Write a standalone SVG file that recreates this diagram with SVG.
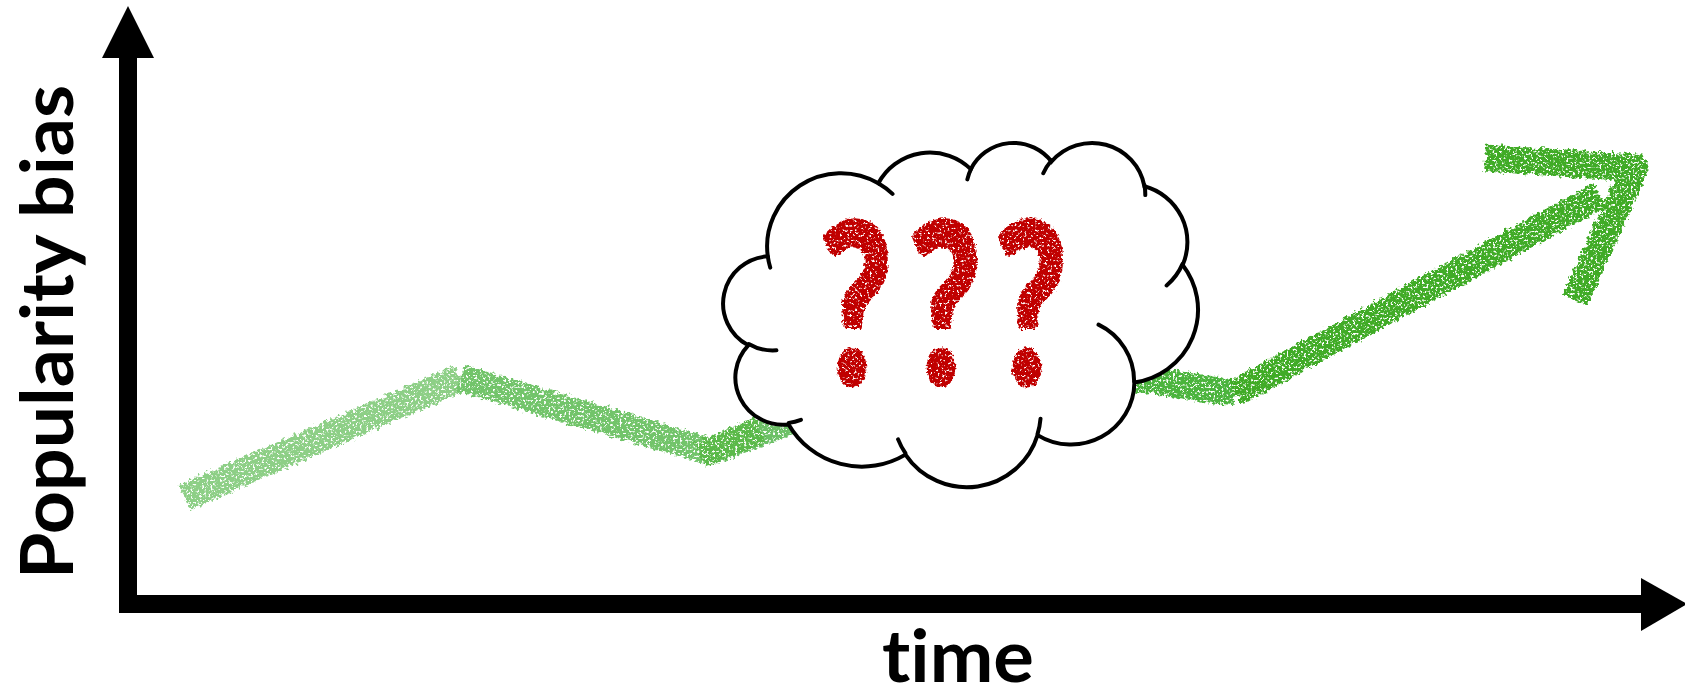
<svg xmlns="http://www.w3.org/2000/svg" width="1685" height="697" viewBox="0 0 1685 697">
  <style>
    .axis { fill: #000; }
    .label { font-family: Lato, "Open Sans", sans-serif; font-weight: 700; fill: #000; font-variant-ligatures: none; }
    .trend { fill: none; stroke-width: 27; stroke-linejoin: round; stroke-linecap: butt; }
    .cloud-line { stroke: #000; stroke-width: 4; vector-effect: non-scaling-stroke; stroke-linecap: round; }
    .qmark { font-family: Lato, "Liberation Sans", sans-serif; font-weight: 900; font-size: 222px; fill: #c00000; stroke: #c00000; stroke-width: 5; stroke-linejoin: round; }
  </style>
  <defs>
    <!-- crayon texture: ragged edges plus small gaps in the pigment -->
    <filter id="chalk" filterUnits="userSpaceOnUse" x="0" y="0" width="1685" height="697">
      <feTurbulence type="fractalNoise" baseFrequency="0.25" numOctaves="2" seed="4" result="warp"/>
      <feDisplacementMap in="SourceGraphic" in2="warp" scale="9" xChannelSelector="R" yChannelSelector="G" result="rough"/>
      <feTurbulence type="fractalNoise" baseFrequency="0.45" numOctaves="2" seed="11" result="grain"/>
      <feColorMatrix in="grain" type="matrix" values="0 0 0 0 0  0 0 0 0 0  0 0 0 0 0  -7 0 0 0 4.9" result="holes"/>
      <feComposite in="rough" in2="holes" operator="in"/>
    </filter>
    <filter id="grunge" filterUnits="userSpaceOnUse" x="700" y="150" width="500" height="300">
      <feTurbulence type="fractalNoise" baseFrequency="0.3" numOctaves="2" seed="21" result="warp"/>
      <feDisplacementMap in="SourceGraphic" in2="warp" scale="6" xChannelSelector="R" yChannelSelector="G" result="rough"/>
      <feTurbulence type="fractalNoise" baseFrequency="0.4" numOctaves="2" seed="5" result="grain"/>
      <feColorMatrix in="grain" type="matrix" values="0 0 0 0 0  0 0 0 0 0  0 0 0 0 0  -7 0 0 0 5.1" result="holes"/>
      <feComposite in="rough" in2="holes" operator="in"/>
    </filter>
  </defs>

  <rect width="1685" height="697" fill="#fff"/>

  <!-- axes -->
  <g id="axes">
    <rect class="axis" x="119" y="56" width="18" height="557"/>
    <polygon class="axis" points="128,6 154,58 102,58"/>
    <rect class="axis" x="119" y="595" width="1524" height="18"/>
    <polygon class="axis" points="1641,578 1687,604 1641,631"/>
  </g>

  <!-- axis labels -->
  <g id="labels">
    <text id="y-label" class="label" font-size="72" text-anchor="middle" transform="translate(73,332) rotate(-90)" textLength="494" lengthAdjust="spacingAndGlyphs">Popularity bias</text>
    <text id="x-label" class="label" font-size="72" text-anchor="middle" x="958" y="682" textLength="152" lengthAdjust="spacingAndGlyphs">time</text>
  </g>

  <!-- trend line drawn in crayon -->
  <g id="trend" filter="url(#chalk)">
    <polyline class="trend" stroke="#6cc066" points="712,452 830,405"/>
    <polyline class="trend" stroke="#4cb43e" points="1080,370 1235,393"/>
    <polyline class="trend" stroke="#8dcf86" points="185,497 460,378"/>
    <polyline class="trend" stroke="#72c46a" points="460,378 712,452"/>
    <polyline class="trend" stroke="#5ab94a" points="700,455 760,430"/>
    <polyline class="trend" stroke="#3fab25" points="1235,393 1600,195"/>
    <polyline class="trend" stroke="#3fab25" points="1485,158 1635,168 1575,300"/>
  </g>

  <!-- thought cloud -->
  <g id="cloud" transform="translate(725.1,141.8) scale(0.010942,0.007967)">
    <path class="cloud-line" fill="#fff" d="M3900 14370 A6753 9190 0 0 1 14005 5202 A5333 7267 0 0 1 22456 3432 A4365 5945 0 0 1 29833 2481 A4857 6595 0 0 1 38318 5576 A5333 7273 0 0 1 41819 15460 A6775 9220 0 0 1 37405 30203 A5785 7867 0 0 1 28556 36813 A6752 9215 0 0 1 16481 39264 A7720 10543 0 0 1 5805 35470 A4360 5918 0 0 1 2114 25548 A4345 5945 0 0 1 3900 14370 Z"/>
    <path class="cloud-line" fill="none" d="M4693 26177 A4345 5945 0 0 1 2160 25380 M6928 34899 A4360 5918 0 0 1 5820 35281 M16478 39090 A6752 9215 0 0 1 15810 37350 M28827 34751 A6752 9215 0 0 1 28560 36660 M34129 22954 A5785 7867 0 0 1 37381 30090 M41798 15354 A5333 7273 0 0 1 40350 18030 M38324 5426 A4857 6595 0 0 1 38401 6690 M29078 3952 A4857 6595 0 0 1 29820 2340 M22141 4720 A4365 5945 0 0 1 22500 3330 M14000 5192 A6753 9190 0 0 1 15300 6540 M4127 15789 A6753 9190 0 0 1 3900 14370"/>
  </g>

  <!-- question marks inside the cloud -->
  <g id="question-marks" filter="url(#grunge)">
    <text class="qmark" text-anchor="middle" transform="translate(856,383) scale(0.7,1)">?</text>
    <text class="qmark" text-anchor="middle" transform="translate(945,383) scale(0.7,1)">?</text>
    <text class="qmark" text-anchor="middle" transform="translate(1031,383) scale(0.7,1)">?</text>
  </g>
</svg>
